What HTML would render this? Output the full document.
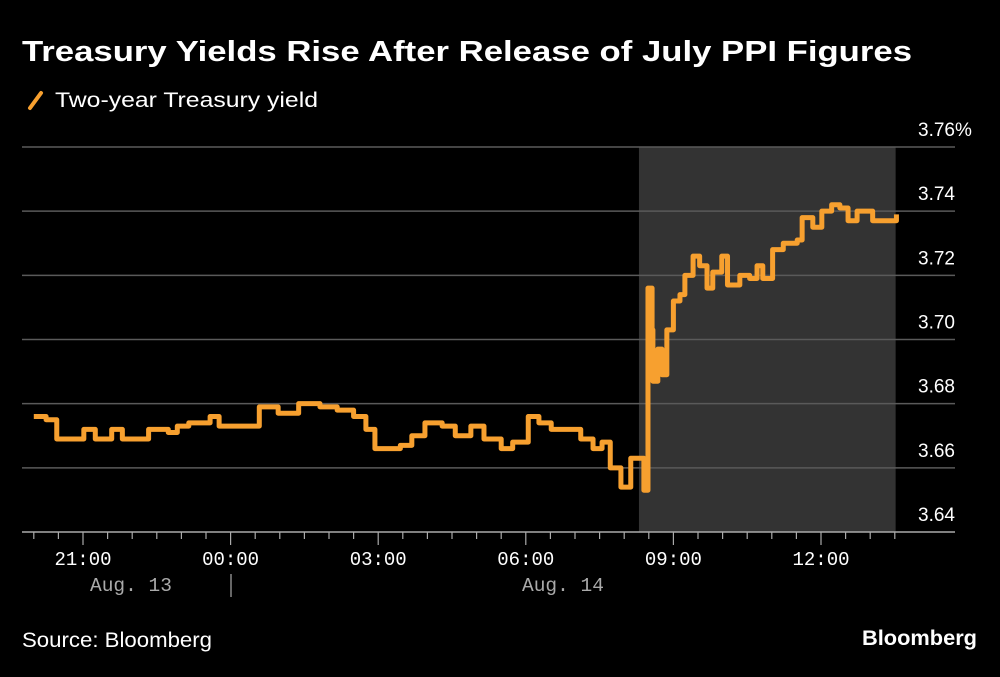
<!DOCTYPE html>
<html><head><meta charset="utf-8"><style>
body{margin:0;background:#000;width:1000px;height:672px;overflow:hidden;font-family:"Liberation Sans",sans-serif;}
svg text{font-family:"Liberation Sans",sans-serif;}
svg text.mono{font-family:"Liberation Mono",monospace;}
</style></head><body>
<svg id="chart" width="1000" height="672" viewBox="0 0 1000 672" xmlns="http://www.w3.org/2000/svg">
<rect width="1000" height="672" fill="#000"/>
<text x="22" y="61" fill="#fff" font-size="29" font-weight="bold" textLength="890" lengthAdjust="spacingAndGlyphs">Treasury Yields Rise After Release of July PPI Figures</text>
<line x1="30" y1="108" x2="41" y2="93" stroke="#f7a02f" stroke-width="4" stroke-linecap="round"/>
<text x="55" y="107" fill="#fff" font-size="21" textLength="263" lengthAdjust="spacingAndGlyphs">Two-year Treasury yield</text>
<g id="plot"></g>
<text x="22" y="647" fill="#fff" font-size="21" textLength="190" lengthAdjust="spacingAndGlyphs">Source: Bloomberg</text>
<text x="977" y="645" fill="#fff" font-size="21" font-weight="bold" text-anchor="end" textLength="115" lengthAdjust="spacingAndGlyphs">Bloomberg</text>
</svg>
<script>
const times = ["20:00","20:15","20:28","20:51","21:01","21:15","21:35","21:48","22:13","22:20","22:44","22:55","23:09","23:25","23:35","23:46",
"+00:07","+00:27","+00:35","+00:58","+01:23","+01:49","+02:10","+02:30","+02:45","+02:56","+03:11","+03:27","+03:41","+03:57","+04:18","+04:34","+04:53","+05:09","+05:30","+05:44","+06:03","+06:16","+06:31","+06:51","+07:07","+07:22","+07:33","+07:43","+07:56","+08:08","+08:24","+08:28","+08:29","+08:34","+08:35","+08:41","+08:46","+08:52","+09:00","+09:08","+09:14","+09:24","+09:32","+09:41","+09:48","+09:59","+10:06","+10:21","+10:33","+10:42","+10:49","+11:01","+11:14","+11:31","+11:37","+11:50","+12:01","+12:13","+12:23","+12:33","+12:44","+12:57","+13:03","+13:24","+13:32"];
const yields = [3.676,3.675,3.669,3.669,3.672,3.669,3.672,3.669,3.669,3.672,3.671,3.673,3.674,3.674,3.676,3.673,
3.673,3.673,3.679,3.677,3.680,3.679,3.678,3.676,3.672,3.666,3.666,3.667,3.670,3.674,3.673,3.670,3.673,3.669,3.666,3.668,3.676,3.674,3.672,3.672,3.669,3.666,3.668,3.660,3.654,3.663,3.653,3.653,3.716,3.703,3.687,3.697,3.689,3.703,3.712,3.714,3.720,3.726,3.723,3.716,3.721,3.726,3.717,3.720,3.719,3.723,3.719,3.728,3.730,3.731,3.738,3.735,3.740,3.742,3.741,3.737,3.740,3.740,3.737,3.737,3.739];
const yTicks = [3.64,3.66,3.68,3.70,3.72,3.74,3.76];
const yTickLabels = ["3.64","3.66","3.68","3.70","3.72","3.74","3.76%"];
const xTickHours = [0,3,6,9,12,15];
const xTickLabels = ["21:00","00:00","03:00","06:00","09:00","12:00"];
const shadeStart = "+08:18", shadeEnd = "+13:31";

const NS="http://www.w3.org/2000/svg";
const plot=document.getElementById('plot');
function toHours(s){let add=0;if(s[0]=='+'){add=24;s=s.slice(1);}const[h,m]=s.split(':').map(Number);return h+m/60+add-21;}
const xScale=h=>83+h*49.2;
const yScale=v=>532-(v-3.64)/0.12*385;
function mk(tag,attrs){const e=document.createElementNS(NS,tag);for(const k in attrs)e.setAttribute(k,attrs[k]);plot.appendChild(e);return e;}

const sh=mk('rect',{x:xScale(toHours(shadeStart)),y:147,width:xScale(toHours(shadeEnd))-xScale(toHours(shadeStart)),height:385,fill:'#333'});



yTicks.forEach((v,i)=>{
  if(i>0){const g=mk('line',{x1:22,x2:955,y1:yScale(v),y2:yScale(v),stroke:'#5a5a5a','stroke-width':1.5});
  
  }
  const t=mk('text',{x:918,y:yScale(v)-11,fill:'#fff','font-size':19});
  t.textContent=yTickLabels[i];
  
  
});
const ax=mk('line',{x1:22,x2:955,y1:532,y2:532,stroke:'#aaa','stroke-width':1.5});


for(let h=-1;h<=16.5;h+=0.5){
  const x=xScale(h);if(x<24||x>953)continue;
  const major=Math.abs(h-Math.round(h/3)*3)<1e-6;
  const tk=mk('line',{x1:x,x2:x,y1:532,y2:major?545:539,stroke:'#aaa','stroke-width':1.2});
  
  
}
xTickHours.forEach((h,i)=>{if(i>=xTickLabels.length)return;
  const t=mk('text',{x:xScale(h),y:565,fill:'#fff','font-size':19,'text-anchor':'middle','class':'mono'});
  t.textContent=xTickLabels[i];
  
  
});
const d1=mk('text',{x:131,y:591,fill:'#aaa','font-size':19.5,'text-anchor':'middle','class':'mono'});d1.textContent='Aug. 13';


const d2=mk('text',{x:563,y:591,fill:'#aaa','font-size':19.5,'text-anchor':'middle','class':'mono'});d2.textContent='Aug. 14';


const sep=mk('line',{x1:231,x2:231,y1:574,y2:597,stroke:'#aaa','stroke-width':1.2});



let d='';
times.forEach((s,i)=>{const x=xScale(toHours(s)),y=yScale(yields[i]);
  if(i==0)d+='M'+x+','+y;else d+='H'+x+'V'+y;});
const line=mk('path',{d:d,fill:'none',stroke:'#f7a02f','stroke-width':5,'stroke-linejoin':'round'});


</script>
</body></html>
